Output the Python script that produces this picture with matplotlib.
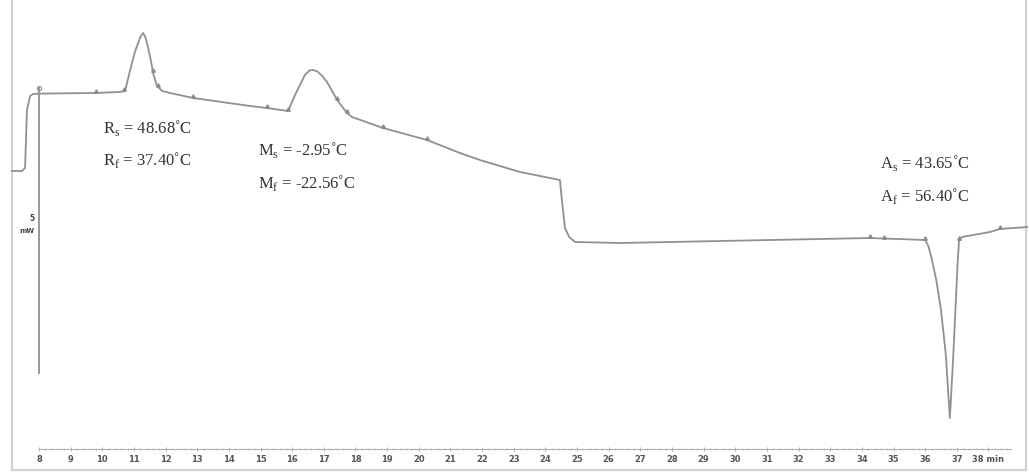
import numpy as np
import matplotlib
matplotlib.use("Agg")
import matplotlib.pyplot as plt

# DSC heat-flow trace: time (min) vs heat flow (mW, arbitrary offset)
t_min = [7.15, 7.46, 7.56, 7.62, 7.72, 7.81, 8.03, 9.77, 10.56, 10.72, 10.88,
         11.03, 11.13, 11.22, 11.29, 11.36, 11.45, 11.53, 11.62, 11.73, 11.89,
         12.14, 12.87, 14.67, 15.20, 15.87, 16.09, 16.40, 16.55, 16.66, 16.80,
         16.95, 17.10, 17.42, 17.73, 17.89, 18.87, 20.26, 21.30, 21.93, 23.20,
         24.46, 24.52, 24.62, 24.75, 24.94, 26.36, 34.26, 36.00, 36.10, 36.20,
         36.35, 36.50, 36.65, 36.78, 36.88, 36.97, 37.02, 37.07, 37.16, 38.05,
         38.36, 39.22]
heat_mw = [3.95, 3.95, 4.10, 7.00, 7.70, 7.80, 7.82, 7.85, 7.90, 7.95, 9.00,
           9.90, 10.35, 10.70, 10.85, 10.65, 10.10, 9.50, 8.75, 8.20, 7.95,
           7.85, 7.60, 7.20, 7.10, 6.95, 7.75, 8.75, 8.98, 9.00, 8.92,
           8.70, 8.40, 7.50, 6.85, 6.65, 6.10, 5.50, 4.85, 4.50, 3.90,
           3.50, 2.50, 1.10, 0.65, 0.40, 0.35, 0.60, 0.50, 0.20, -0.40,
           -1.50, -3.00, -5.20, -8.40, -5.50, -2.50, -0.80, 0.50, 0.65, 0.90,
           1.05, 1.15]

# analysis markers placed by the instrument software
marker_t = [9.8, 10.7, 11.6, 11.76, 12.87, 15.2, 15.87, 17.42, 17.73, 18.87,
            20.26, 34.26, 34.7, 36.0, 37.07, 38.36]

# transformation temperatures
labels = [("R$_\\mathregular{s}$ = 48.68˚C", 10.02, 6.1),
          ("R$_\\mathregular{f}$ = 37.40˚C", 10.02, 4.5),
          ("M$_\\mathregular{s}$ = -2.95˚C", 14.92, 5.0),
          ("M$_\\mathregular{f}$ = -22.56˚C", 14.92, 3.35),
          ("A$_\\mathregular{s}$ = 43.65˚C", 34.57, 4.35),
          ("A$_\\mathregular{f}$ = 56.40˚C", 34.57, 2.7)]

ticks = list(range(8, 39))
tick_labels = [str(v) for v in ticks[:-1]] + ["38 min"]

line_c = "#909090"
frame_c = "#d2d2d2"

fig = plt.figure(figsize=(10.29, 4.74), dpi=100)
ax = fig.add_axes([0, 0, 1, 1])
ax.set_xlim(6.768, 39.28)
ax.set_ylim(-11.2, 12.5)

# outer frame
ax.plot([7.147, 7.147], [-11.0, 12.5], color=frame_c, lw=1.6)
ax.plot([7.147, 39.19], [-11.0, -11.0], color=frame_c, lw=1.6)
ax.plot([39.19, 39.19], [-11.0, 12.5], color=frame_c, lw=1.6)

# trace
t = np.array(t_min)
h = np.array(heat_mw)
ax.plot(t, h, color=line_c, lw=1.3, solid_joinstyle="round")
ax.plot([8.0, 8.0], [8.1, -6.15], color=line_c, lw=1.3)
ax.plot([8.0], [8.1], marker="o", ms=3, mfc="none", mec=line_c, mew=0.8)
ax.plot(marker_t, np.interp(marker_t, t, h) + 0.1, ls="none", marker="^",
        ms=2.5, color="#8a8a8a")

# scale label
ax.text(7.86, 1.6, "5", fontsize=5.5, fontweight="bold", color="#444444",
        ha="right", va="center")
ax.text(7.86, 0.95, "mW", fontsize=5, fontweight="bold", color="#444444",
        ha="right", va="center")

for s, x, y in labels:
    ax.text(x, y, s, fontsize=12, color="#333333", ha="left", va="center",
            family=["Liberation Serif", "DejaVu Serif"])

# time ruler
for side in ["top", "left", "right"]:
    ax.spines[side].set_visible(False)
ax.spines["bottom"].set_position(("data", -9.95))
ax.spines["bottom"].set_bounds(8, 38.7)
ax.spines["bottom"].set_color("#b0b0b0")
ax.spines["bottom"].set_linewidth(0.8)
ax.set_yticks([])
ax.set_xticks(ticks)
ax.set_xticklabels(tick_labels)
ax.set_xticks(np.arange(8, 38.75, 0.2), minor=True)
ax.tick_params(axis="x", which="major", direction="inout", length=3,
               width=0.6, color="#a0a0a0", pad=3, labelsize=6,
               labelcolor="#555555")
ax.tick_params(axis="x", which="minor", direction="inout", length=2,
               width=0.5, color="#b0b0b0")
for lbl in ax.get_xticklabels():
    lbl.set_fontweight("bold")

fig.savefig("out.png", dpi=100)
